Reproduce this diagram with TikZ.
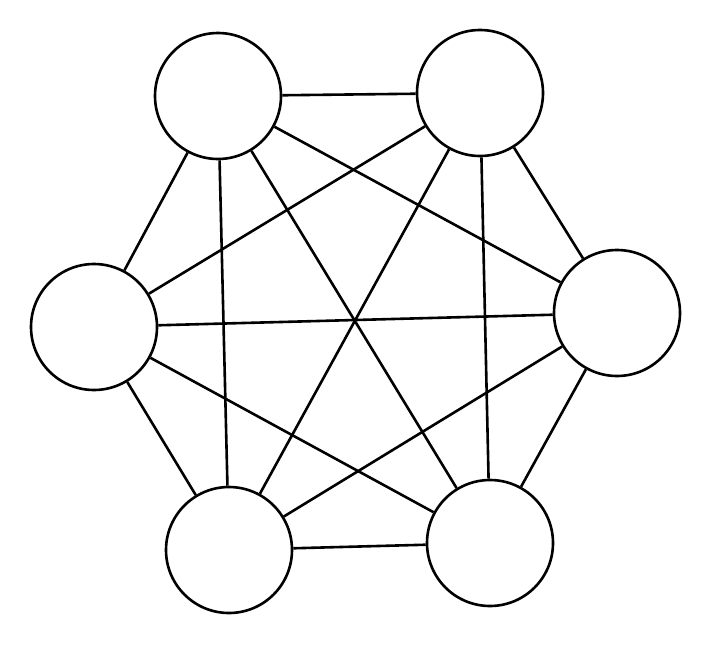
\documentclass[tikz,border=0pt]{standalone}
\begin{document}
\begin{tikzpicture}[x=1pt,y=-1pt,line width=2.6pt,
  vertex/.style={draw,circle,fill=white,inner sep=0pt,minimum size=126pt}]
\useasboundingbox (0,0) rectangle (712,648);
\node[vertex] (tl) at (218,96) {};
\node[vertex] (tr) at (480,93) {};
\node[vertex] (l) at (94,327) {};
\node[vertex] (r) at (617,313) {};
\node[vertex] (bl) at (229,550) {};
\node[vertex] (br) at (490,543) {};
\draw (tl) -- (tr);
\draw (tl) -- (l);
\draw (tl) -- (r);
\draw (tl) -- (bl);
\draw (tl) -- (br);
\draw (tr) -- (l);
\draw (tr) -- (r);
\draw (tr) -- (bl);
\draw (tr) -- (br);
\draw (l) -- (r);
\draw (l) -- (bl);
\draw (l) -- (br);
\draw (r) -- (bl);
\draw (r) -- (br);
\draw (bl) -- (br);
\end{tikzpicture}
\end{document}
